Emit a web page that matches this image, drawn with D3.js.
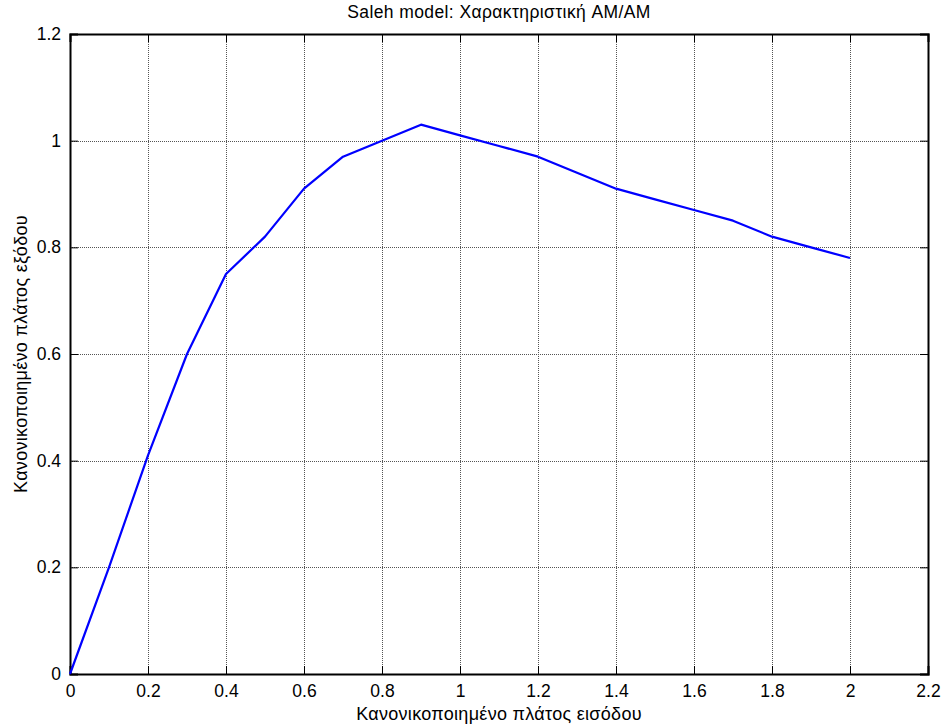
<!DOCTYPE html>
<html>
<head>
<meta charset="utf-8">
<script src="https://cdn.jsdelivr.net/npm/d3@7"></script>
<style>
  html, body { margin: 0; padding: 0; background: #fff; }
  svg { display: block; font-family: "Liberation Sans", Arial, sans-serif; }
</style>
</head>
<body>
<svg id="chart" width="944" height="728"></svg>
<script>
// AM/AM characteristic of the Saleh amplifier model
const inputAmplitude = [0, 0.1, 0.2, 0.3, 0.4, 0.5, 0.6, 0.7, 0.8, 0.9, 1.0,
                        1.1, 1.2, 1.3, 1.4, 1.5, 1.6, 1.7, 1.8, 1.9, 2.0];
const outputAmplitude = [0, 0.2, 0.41, 0.6, 0.75, 0.82, 0.91, 0.97, 1.0, 1.03, 1.01,
                         0.99, 0.97, 0.94, 0.91, 0.89, 0.87, 0.85, 0.82, 0.80, 0.78];
const xTicks = [0, 0.2, 0.4, 0.6, 0.8, 1, 1.2, 1.4, 1.6, 1.8, 2, 2.2];
const yTicks = [0, 0.2, 0.4, 0.6, 0.8, 1, 1.2];

const titleText = "Saleh model: Χαρακτηριστική AM/AM";
const xLabel = "Κανονικοποιημένο πλάτος εισόδου";
const yLabel = "Κανονικοποιημένο πλάτος εξόδου";

const svg = d3.select("#chart");
const margin = { left: 70, right: 16, top: 34, bottom: 54 };
const W = 944, H = 728;
const x0 = margin.left, x1 = W - margin.right;
const y0 = H - margin.bottom, y1 = margin.top;

const x = d3.scaleLinear().domain([0, 2.2]).range([x0, x1]);
const y = d3.scaleLinear().domain([0, 1.2]).range([y0, y1]);

// dotted grid
const grid = svg.append("g").attr("stroke", "#555").attr("stroke-width", 1)
  .attr("stroke-dasharray", "1,1").attr("shape-rendering", "crispEdges");
grid.selectAll("line.gx").data(xTicks.slice(1, -1)).join("line")
  .attr("x1", d => Math.round(x(d)) + 0.5).attr("x2", d => Math.round(x(d)) + 0.5)
  .attr("y1", y1).attr("y2", y0);
grid.selectAll("line.gy").data(yTicks.slice(1, -1)).join("line")
  .attr("x1", x0).attr("x2", x1)
  .attr("y1", d => Math.round(y(d)) + 0.5).attr("y2", d => Math.round(y(d)) + 0.5);

// axes with inward ticks on all four sides
const tickLen = 8;
const fmt = d => String(+d.toFixed(1));
const axB = svg.append("g").attr("transform", `translate(0,${y0})`)
  .call(d3.axisBottom(x).tickValues(xTicks).tickSize(-tickLen).tickPadding(11).tickFormat(fmt));
const axT = svg.append("g").attr("transform", `translate(0,${y1})`)
  .call(d3.axisTop(x).tickValues(xTicks).tickSize(-tickLen).tickFormat(""));
const axL = svg.append("g").attr("transform", `translate(${x0},0)`)
  .call(d3.axisLeft(y).tickValues(yTicks).tickSize(-tickLen).tickPadding(9).tickFormat(fmt));
const axR = svg.append("g").attr("transform", `translate(${x1},0)`)
  .call(d3.axisRight(y).tickValues(yTicks).tickSize(-tickLen).tickFormat(""));

[axB, axT, axL, axR].forEach(g => {
  g.select(".domain").attr("stroke", "#000").attr("stroke-width", 2);
  g.selectAll(".tick line").attr("stroke", "#000").attr("stroke-width", 1);
  g.selectAll("text").attr("font-size", 17.5).attr("fill", "#000")
    .attr("font-family", "Liberation Sans, Arial, sans-serif");
});

// data curve
const line = d3.line().x((d, i) => x(inputAmplitude[i])).y(d => y(d));
svg.append("path").datum(outputAmplitude)
  .attr("d", line).attr("fill", "none")
  .attr("stroke", "#0000ff").attr("stroke-width", 2.2)
  .attr("stroke-linejoin", "round");

// labels
svg.append("text").attr("x", (x0 + x1) / 2).attr("y", 18)
  .attr("text-anchor", "middle").attr("font-size", 17.5)
  .attr("letter-spacing", 0.4).text(titleText);
svg.append("text").attr("x", (x0 + x1) / 2).attr("y", 720)
  .attr("text-anchor", "middle").attr("font-size", 18)
  .attr("letter-spacing", 0.3).text(xLabel);
svg.append("text").attr("transform", `translate(27,${(y0 + y1) / 2}) rotate(-90)`)
  .attr("text-anchor", "middle").attr("font-size", 18)
  .attr("letter-spacing", 0.3).text(yLabel);
</script>
</body>
</html>
